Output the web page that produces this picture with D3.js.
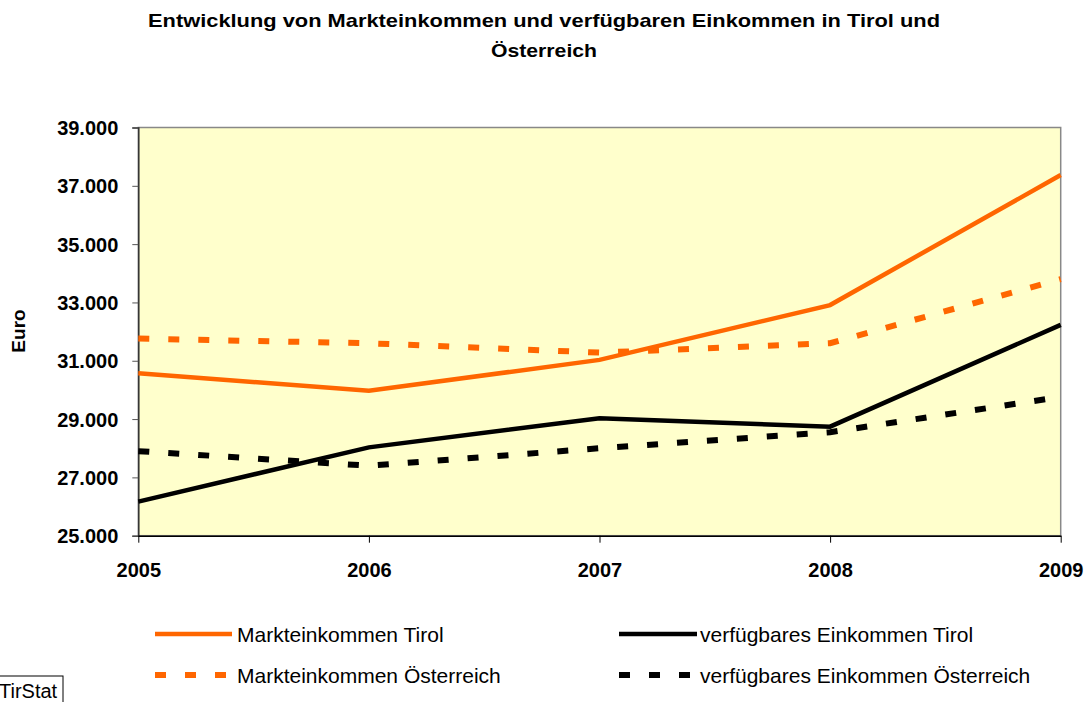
<!DOCTYPE html>
<html>
<head>
<meta charset="utf-8">
<script src="https://cdn.jsdelivr.net/npm/d3@7"></script>
<style>
  body { margin: 0; background: #fff; }
  text { font-family: "Liberation Sans", Arial, sans-serif; }
</style>
</head>
<body>
<script>
// DATA
var years = ["2005", "2006", "2007", "2008", "2009"];
var marktTirol = [30570, 29970, 31030, 32910, 37370];
var marktOesterreich = [31760, 31600, 31280, 31600, 33800];
var verfTirol = [26170, 28030, 29030, 28740, 32230];
var verfOesterreich = [27900, 27400, 28000, 28550, 29760];
var yTicks = [25000, 27000, 29000, 31000, 33000, 35000, 37000, 39000];

var series = [
    {name: "Markteinkommen Tirol", values: marktTirol, color: "#FF6600", dashed: false},
    {name: "verfügbares Einkommen Tirol", values: verfTirol, color: "#000000", dashed: false},
    {name: "Markteinkommen Österreich", values: marktOesterreich, color: "#FF6600", dashed: true},
    {name: "verfügbares Einkommen Österreich", values: verfOesterreich, color: "#000000", dashed: true}
];

var w = 1088, h = 702;
var pLeft = 138.3, pRight = 1060.7, pTop = 127.5, pBottom = 535.7;

var svg = d3.select("body").append("svg")
    .attr("width", w)
    .attr("height", h);

// scales
var x = d3.scalePoint().domain(years).range([pLeft, pRight]);
var y = d3.scaleLinear().domain([25000, 39000]).range([pBottom, pTop]);
var fmt = function(d) { return d3.format(",")(d).replace(",", "."); };

// title
svg.append("text")
   .attr("x", 544).attr("y", 27)
   .attr("text-anchor", "middle")
   .attr("font-size", "19px").attr("font-weight", "bold")
   .attr("textLength", 792).attr("lengthAdjust", "spacingAndGlyphs")
   .text("Entwicklung von Markteinkommen und verfügbaren Einkommen in Tirol und");
svg.append("text")
   .attr("x", 544).attr("y", 57)
   .attr("text-anchor", "middle")
   .attr("font-size", "19px").attr("font-weight", "bold")
   .attr("textLength", 106).attr("lengthAdjust", "spacingAndGlyphs")
   .text("Österreich");

// plot background
svg.append("rect")
   .attr("x", pLeft).attr("y", pTop)
   .attr("width", pRight - pLeft).attr("height", pBottom - pTop)
   .attr("fill", "#FFFFCC")
   .attr("stroke", "#888").attr("stroke-width", 1.5);

// y axis
var yAxis = svg.append("g")
   .attr("transform", "translate(" + pLeft + ",0)")
   .call(d3.axisLeft(y).tickValues(yTicks).tickSize(6).tickFormat(fmt));
yAxis.select(".domain").attr("stroke", "#333").attr("stroke-width", 1.5);
yAxis.selectAll(".tick line").attr("stroke", "#555");
yAxis.selectAll("text")
     .attr("font-size", "20px").attr("font-weight", "bold")
     .attr("fill", "#000").attr("x", -20).attr("dy", "0.35em")
     .attr("font-family", "Liberation Sans, Arial, sans-serif");

// x axis
var xAxis = svg.append("g")
   .attr("transform", "translate(0," + pBottom + ")")
   .call(d3.axisBottom(x).tickSize(7).tickSizeOuter(0));
xAxis.select(".domain").attr("stroke", "#000").attr("stroke-width", 1.5);
xAxis.selectAll(".tick line").attr("stroke", "#000");
xAxis.selectAll("text")
     .attr("font-size", "20px").attr("font-weight", "bold")
     .attr("fill", "#000").attr("y", 41).attr("dy", 0)
     .attr("font-family", "Liberation Sans, Arial, sans-serif");

// axis title
svg.append("text")
   .attr("transform", "translate(25,331) rotate(-90)")
   .attr("text-anchor", "middle")
   .attr("font-size", "19px").attr("font-weight", "bold")
   .text("Euro");

// lines
var line = d3.line()
    .x(function(d, i) { return x(years[i]); })
    .y(function(d) { return y(d); });

svg.selectAll("path.series")
   .data(series)
   .enter()
   .append("path")
   .attr("class", "series")
   .attr("d", function(d) { return line(d.values); })
   .attr("fill", "none")
   .attr("stroke", function(d) { return d.color; })
   .attr("stroke-width", function(d) { return d.dashed ? 6 : 4.5; })
   .attr("stroke-dasharray", function(d) { return d.dashed ? "11,19" : null; });

// legend
var legendPos = [[155, 634], [619, 634], [155, 675], [619, 675]];
var lg = svg.selectAll("g.legend")
   .data(series)
   .enter()
   .append("g")
   .attr("class", "legend")
   .attr("transform", function(d, i) { return "translate(" + legendPos[i][0] + "," + legendPos[i][1] + ")"; });
lg.append("line")
  .attr("x1", 0).attr("x2", function(d, i) { return i % 2 ? 78 : 77; })
  .attr("y1", 0).attr("y2", 0)
  .attr("stroke", function(d) { return d.color; })
  .attr("stroke-width", function(d) { return d.dashed ? 6 : 4.5; })
  .attr("stroke-dasharray", function(d) { return d.dashed ? "11,19" : null; });
lg.append("text")
  .attr("x", function(d, i) { return i % 2 ? 81 : 82; })
  .attr("y", 8)
  .attr("font-size", "21px")
  .text(function(d) { return d.name; });

// source box
svg.append("rect")
   .attr("x", -2).attr("y", 676).attr("width", 65).attr("height", 40)
   .attr("fill", "none").attr("stroke", "#000").attr("stroke-width", 1);
svg.append("text")
   .attr("x", -1).attr("y", 698)
   .attr("font-size", "20px")
   .text("TirStat");
</script>
</body>
</html>
